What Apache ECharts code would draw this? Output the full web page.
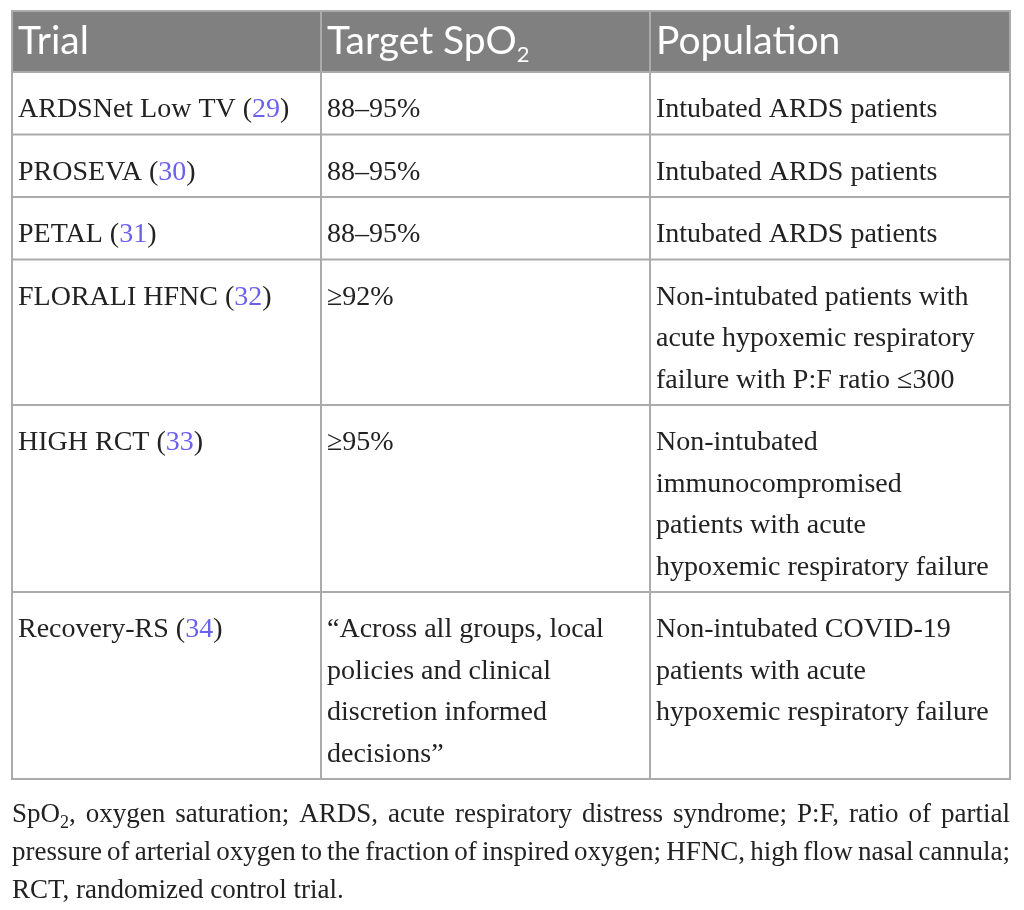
<!DOCTYPE html>
<html>
<head>
<meta charset="utf-8">
<script src="https://cdn.jsdelivr.net/npm/echarts@6.0.0/dist/echarts.min.js"></script>
<style>
  html, body { margin: 0; padding: 0; background: #fff; }
  #main { width: 1024px; height: 910px; }
</style>
</head>
<body>
<div id="main"></div>
<script>
// 表格内容
const headers = ['Trial', 'Target SpO₂', 'Population'];
const trialNames = ['ARDSNet Low TV', 'PROSEVA', 'PETAL', 'FLORALI HFNC', 'HIGH RCT', 'Recovery-RS'];
const trialRefs = ['29', '30', '31', '32', '33', '34'];
const targets = [
  '88–95%',
  '88–95%',
  '88–95%',
  '≥92%',
  '≥95%',
  '“Across all groups, local\npolicies and clinical\ndiscretion informed\ndecisions”'
];
const populations = [
  'Intubated ARDS patients',
  'Intubated ARDS patients',
  'Intubated ARDS patients',
  'Non-intubated patients with\nacute hypoxemic respiratory\nfailure with P:F ratio ≤300',
  'Non-intubated\nimmunocompromised\npatients with acute\nhypoxemic respiratory failure',
  'Non-intubated COVID-19\npatients with acute\nhypoxemic respiratory failure'
];
const footnoteLines = [
  'SpO₂, oxygen saturation; ARDS, acute respiratory distress syndrome; P:F, ratio of partial',
  'pressure of arterial oxygen to the fraction of inspired oxygen; HFNC, high flow nasal cannula;',
  'RCT, randomized control trial.'
];

// 布局
const TABLE_LEFT = 12, TABLE_TOP = 11, TABLE_W = 998;
const COL_EDGES = [0, 309, 638, TABLE_W]; //列边界
const HEAD_H = 61, LINE_H = 41.5, PAD_V = 21, PAD_L = 6;
const BORDER = '#ababab';
const SERIF = '"Liberation Serif", "Times New Roman", serif';
const SANS = 'Lato, "Open Sans", sans-serif';
const BODY_SIZE = 28, HEAD_SIZE = 39, NOTE_SIZE = 27, NOTE_LINE_H = 38;

const rowLines = targets.map((t, i) =>
  Math.max(1, t.split('\n').length, populations[i].split('\n').length));
const rowHeights = [HEAD_H].concat(rowLines.map(n => n * LINE_H + PAD_V));
const rowTops = [];
rowHeights.reduce((acc, h) => { rowTops.push(acc); return acc + h; }, 0);
const tableH = rowHeights.reduce((a, b) => a + b, 0);

const rich = {
  ref: { fill: '#6b61ef', fontFamily: SERIF, fontSize: BODY_SIZE },
  hsub: { fill: '#fff', fontFamily: SANS, fontSize: 22, padding: [26, 0, 0, 0] },
  nsub: { fill: '#222', fontFamily: SERIF, fontSize: 18, padding: [16, 0, 0, 0] }
};

function cellTexts(idx) {
  if (idx === 0) return headers.map(h => h.replace('₂', '{hsub|2}'));
  const r = idx - 1;
  return [trialNames[r] + ' ({ref|' + trialRefs[r] + '})', targets[r], populations[r]];
}

function renderItem(params, api) {
  const top = api.value(0), bottom = api.value(1), idx = api.value(2);
  const tl = api.coord([0, top]), br = api.coord([TABLE_W, bottom]);
  const children = [];
  if (idx === 0) {
    children.push({
      type: 'rect',
      shape: { x: tl[0], y: tl[1], width: br[0] - tl[0], height: br[1] - tl[1] },
      style: { fill: '#808080' }
    });
    children.push({
      type: 'line',
      shape: { x1: tl[0] - 1, y1: tl[1], x2: br[0] + 1, y2: tl[1] },
      style: { stroke: BORDER, lineWidth: 2 }
    });
  }
  children.push({
    type: 'line',
    shape: { x1: tl[0] - 1, y1: br[1], x2: br[0] + 1, y2: br[1] },
    style: { stroke: BORDER, lineWidth: 2 }
  });
  COL_EDGES.forEach(cx => {
    const x = api.coord([cx, top])[0];
    children.push({
      type: 'line',
      shape: { x1: x, y1: tl[1], x2: x, y2: br[1] },
      style: { stroke: BORDER, lineWidth: 2 }
    });
  });
  cellTexts(idx).forEach((txt, c) => {
    const x = api.coord([COL_EDGES[c], top])[0] + PAD_L;
    if (idx === 0) {
      children.push({
        type: 'text',
        x: x,
        y: (tl[1] + br[1]) / 2,
        style: {
          text: txt, rich: rich, fill: '#fff',
          fontFamily: SANS, fontSize: HEAD_SIZE,
          verticalAlign: 'middle', align: 'left'
        }
      });
    } else {
      children.push({
        type: 'text',
        x: x,
        y: tl[1] + 17,
        style: {
          text: txt, rich: rich, fill: '#222',
          fontFamily: SERIF, fontSize: BODY_SIZE, lineHeight: LINE_H,
          verticalAlign: 'top', align: 'left'
        }
      });
    }
  });
  return { type: 'group', children: children };
}

// 注释：两端对齐
const ctx = document.createElement('canvas').getContext('2d');
function wordWidth(w) {
  const parts = w.split('₂');
  let width = 0;
  ctx.font = NOTE_SIZE + 'px ' + SERIF;
  parts.forEach(p => { width += ctx.measureText(p).width; });
  ctx.font = '18px ' + SERIF;
  width += (parts.length - 1) * ctx.measureText('2').width;
  return width;
}
const noteElements = [];
const noteTop = TABLE_TOP + tableH + 36;
footnoteLines.forEach((line, li) => {
  const words = line.split(' ');
  const widths = words.map(wordWidth);
  const total = widths.reduce((a, b) => a + b, 0);
  const last = li === footnoteLines.length - 1;
  ctx.font = NOTE_SIZE + 'px ' + SERIF;
  const gap = last ? ctx.measureText(' ').width : (TABLE_W - total) / (words.length - 1);
  let x = TABLE_LEFT;
  words.forEach((w, wi) => {
    noteElements.push({
      type: 'text',
      x: x,
      y: noteTop + li * NOTE_LINE_H,
      style: {
        text: w.replace('₂', '{nsub|2}'), rich: rich, fill: '#222',
        fontFamily: SERIF, fontSize: NOTE_SIZE,
        verticalAlign: 'middle', align: 'left'
      }
    });
    x += widths[wi] + gap;
  });
});

const chart = echarts.init(document.getElementById('main'));
chart.setOption({
  animation: false,
  backgroundColor: '#fff',
  grid: { left: TABLE_LEFT, top: TABLE_TOP, width: TABLE_W, height: tableH },
  xAxis: { type: 'value', min: 0, max: TABLE_W, show: false },
  yAxis: { type: 'value', min: 0, max: tableH, inverse: true, show: false },
  series: [{
    type: 'custom',
    silent: true,
    clip: false,
    renderItem: renderItem,
    data: rowHeights.map((h, i) => [rowTops[i], rowTops[i] + h, i])
  }],
  graphic: noteElements
});
</script>
</body>
</html>
